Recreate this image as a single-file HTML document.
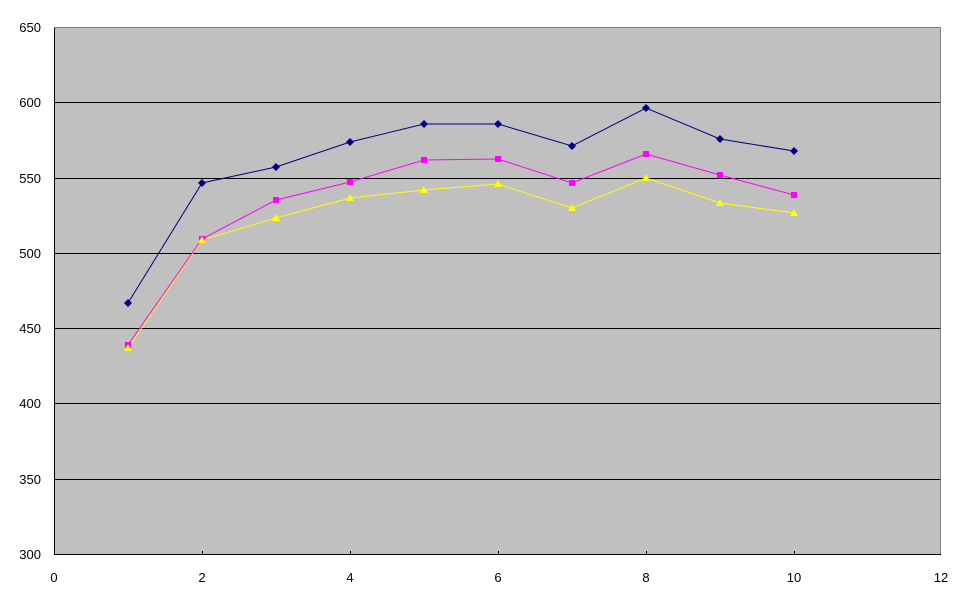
<!DOCTYPE html>
<html><head><meta charset="utf-8"><style>
body{margin:0;background:#fff;}
svg text{font-family:"Liberation Sans",sans-serif;font-size:13px;fill:#000;}
</style></head><body>
<svg width="967" height="603" xmlns="http://www.w3.org/2000/svg">
<rect x="54" y="27" width="887" height="527" fill="#c0c0c0"/>
<g stroke="#000" stroke-width="1">
<line x1="54" y1="102.5" x2="941" y2="102.5"/>
<line x1="54" y1="178.5" x2="941" y2="178.5"/>
<line x1="54" y1="253.5" x2="941" y2="253.5"/>
<line x1="54" y1="328.5" x2="941" y2="328.5"/>
<line x1="54" y1="403.5" x2="941" y2="403.5"/>
<line x1="54" y1="479.5" x2="941" y2="479.5"/>
<line x1="54.5" y1="27" x2="54.5" y2="554"/>
<line x1="54" y1="554.5" x2="941" y2="554.5"/>
<line x1="202.5" y1="551" x2="202.5" y2="554"/>
<line x1="350.5" y1="551" x2="350.5" y2="554"/>
<line x1="498.5" y1="551" x2="498.5" y2="554"/>
<line x1="646.5" y1="551" x2="646.5" y2="554"/>
<line x1="794.5" y1="551" x2="794.5" y2="554"/>
</g>
<line x1="54" y1="27.5" x2="941" y2="27.5" stroke="#808080"/>
<line x1="940.5" y1="27" x2="940.5" y2="554" stroke="#808080"/>
<g text-anchor="end">
<text x="41" y="32">650</text><text x="41" y="107">600</text><text x="41" y="183">550</text>
<text x="41" y="258">500</text><text x="41" y="333">450</text><text x="41" y="408">400</text>
<text x="41" y="484">350</text><text x="41" y="559">300</text>
</g>
<g text-anchor="middle">
<text x="54" y="582">0</text><text x="202" y="582">2</text><text x="350" y="582">4</text>
<text x="498" y="582">6</text><text x="646" y="582">8</text><text x="794" y="582">10</text><text x="941" y="582">12</text>
</g>
<polyline fill="none" stroke="#ffff00" stroke-width="1" points="128,348 202,240 276,218 350,198 424,190 498,184 572,208 646,178 720,203 794,213"/>
<polyline fill="none" stroke="#ff00ff" stroke-width="1" points="128,345 202,239 276,200 350,182 424,160 498,159 572,183 646,154 720,175 794,195"/>
<polyline fill="none" stroke="#000080" stroke-width="1" points="128,303 202,183 276,167 350,142 424,124 498,124 572,146 646,108 720,139 794,151"/>
<g fill="#ff00ff">
<rect x="125" y="342" width="6" height="6"/><rect x="199" y="236" width="6" height="6"/><rect x="273" y="197" width="6" height="6"/><rect x="347" y="179" width="6" height="6"/><rect x="421" y="157" width="6" height="6"/><rect x="495" y="156" width="6" height="6"/><rect x="569" y="180" width="6" height="6"/><rect x="643" y="151" width="6" height="6"/><rect x="717" y="172" width="6" height="6"/><rect x="791" y="192" width="6" height="6"/>
</g>
<g fill="#ffff00">
<polygon points="128,344 132,351 124,351"/><polygon points="202,236 206,243 198,243"/><polygon points="276,214 280,221 272,221"/><polygon points="350,194 354,201 346,201"/><polygon points="424,186 428,193 420,193"/><polygon points="498,180 502,187 494,187"/><polygon points="572,204 576,211 568,211"/><polygon points="646,174 650,181 642,181"/><polygon points="720,199 724,206 716,206"/><polygon points="794,209 798,216 790,216"/>
</g>
<g fill="#000080">
<polygon points="128,299 132,303 128,307 124,303"/><polygon points="202,179 206,183 202,187 198,183"/><polygon points="276,163 280,167 276,171 272,167"/><polygon points="350,138 354,142 350,146 346,142"/><polygon points="424,120 428,124 424,128 420,124"/><polygon points="498,120 502,124 498,128 494,124"/><polygon points="572,142 576,146 572,150 568,146"/><polygon points="646,104 650,108 646,112 642,108"/><polygon points="720,135 724,139 720,143 716,139"/><polygon points="794,147 798,151 794,155 790,151"/>
</g>
</svg>
</body></html>
